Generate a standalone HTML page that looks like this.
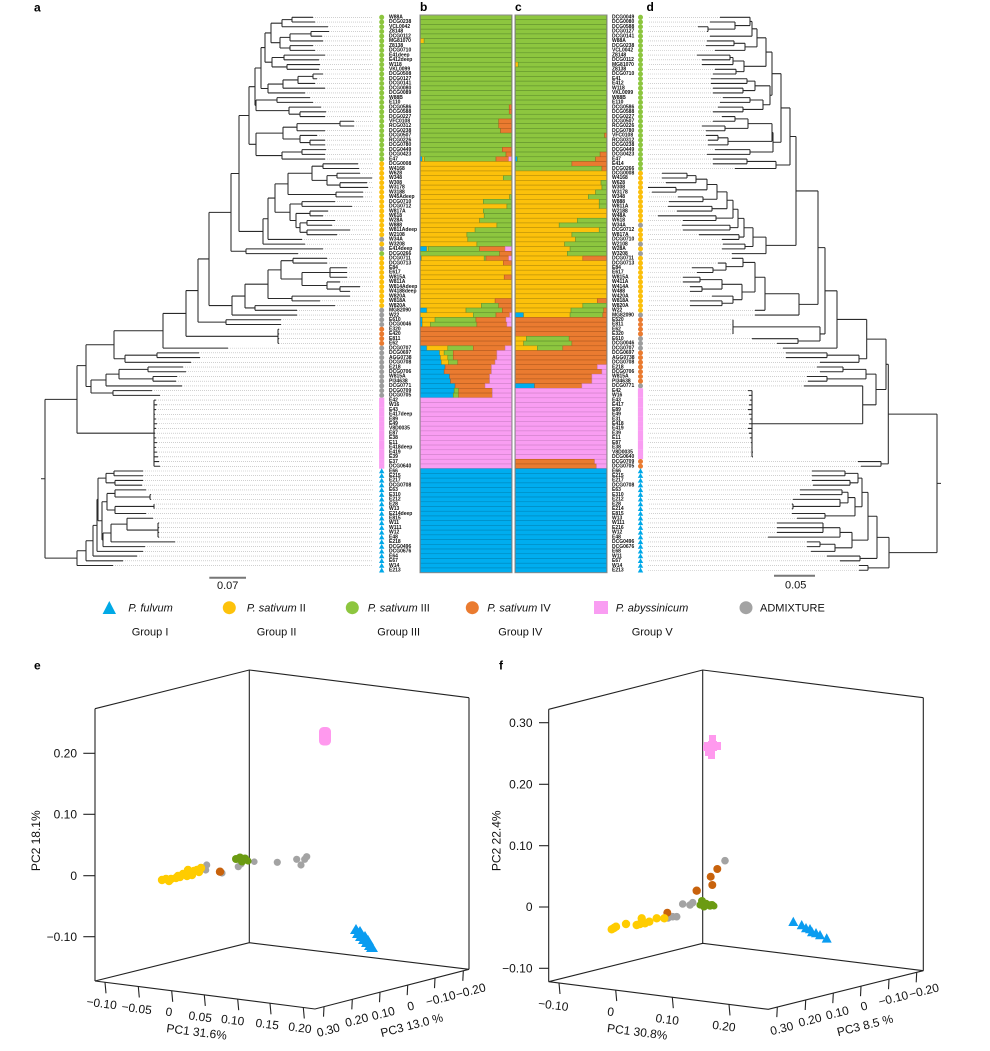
<!DOCTYPE html>
<html><head><meta charset="utf-8">
<style>
html,body{margin:0;padding:0;background:#fff;}
#wrap{position:relative;width:990px;height:1051px;overflow:hidden;background:#fff;font-family:"Liberation Sans",Arial,sans-serif;}
#main{position:absolute;left:0;top:0;}
.lab{position:absolute;font-size:10px;line-height:9.452px;font-weight:bold;white-space:pre;color:#111;transform:scale(0.5);transform-origin:0 0;font-family:"Liberation Sans",Arial,sans-serif;}
</style></head><body>
<div id="wrap">
<svg id="main" width="990" height="1051" viewBox="0 0 990 1051" xmlns="http://www.w3.org/2000/svg" font-family="Liberation Sans, Arial, sans-serif">
<g id="treeA"></g>
<g id="treeD"></g>
<g id="bars"></g>
<g id="marks"></g>
<rect x="420" y="15" width="92" height="557.7" fill="none" stroke="#8a8a8a" stroke-width="1"/>
<rect x="515" y="15" width="92" height="557.7" fill="none" stroke="#8a8a8a" stroke-width="1"/>

<!-- panel letters -->
<g font-weight="bold" font-size="12" fill="#000">
<text x="34" y="11.7">a</text>
<text x="420" y="11">b</text>
<text x="515" y="11">c</text>
<text x="646.5" y="11">d</text>
<text x="34" y="669.3">e</text>
<text x="499" y="669.3">f</text>
</g>

<!-- scale bars -->
<line x1="209.3" y1="577.7" x2="246" y2="577.7" stroke="#777" stroke-width="2"/>
<text x="227.7" y="589" font-size="11" text-anchor="middle" fill="#111">0.07</text>
<line x1="774" y1="575.7" x2="815" y2="575.7" stroke="#777" stroke-width="2"/>
<text x="795.7" y="588.3" font-size="11" text-anchor="middle" fill="#111">0.05</text>

<!-- legend -->
<g font-size="11" fill="#111">
<polygon points="109.3,601 102.6,614 116,614" fill="#00a9e6"/>
<text x="128.3" y="611.7" font-style="italic">P. fulvum</text>
<circle cx="229.3" cy="607.7" r="6.5" fill="#fdc20b"/>
<text x="246.7" y="611.7"><tspan font-style="italic">P. sativum</tspan> II</text>
<circle cx="352.3" cy="607.7" r="6.5" fill="#8dc63f"/>
<text x="367.7" y="611.7"><tspan font-style="italic">P. sativum</tspan> III</text>
<circle cx="472.3" cy="607.7" r="6.5" fill="#ea7b30"/>
<text x="487.3" y="611.7"><tspan font-style="italic">P. sativum</tspan> IV</text>
<rect x="594" y="601" width="14" height="13" fill="#f99df2"/>
<text x="615.7" y="611.7" font-style="italic">P. abyssinicum</text>
<circle cx="746" cy="607.7" r="6.5" fill="#a3a3a3"/>
<text x="760" y="611.7">ADMIXTURE</text>
<text x="131.7" y="635.7">Group I</text>
<text x="256.7" y="635.7">Group II</text>
<text x="377.3" y="635.7">Group III</text>
<text x="498.3" y="635.7">Group IV</text>
<text x="631.7" y="635.7">Group V</text>
</g>

<!-- PCA e -->
<g stroke="#222" stroke-width="1.1" fill="none">
<polyline points="95,708.7 249.3,670 469,697.7"/>
<line x1="95" y1="708.7" x2="95" y2="981"/>
<line x1="249.3" y1="670" x2="249.3" y2="942.7"/>
<line x1="469" y1="697.7" x2="469" y2="969.3"/>
<polyline points="95,981 249.3,942.7 469,969.3"/>
<polyline points="95,981 315,1009 469,969.3"/>
<line x1="83.3" y1="753.3" x2="95" y2="753.3"/>
<line x1="83.3" y1="814.3" x2="95" y2="814.3"/>
<line x1="83.3" y1="875.7" x2="95" y2="875.7"/>
<line x1="83.3" y1="936.7" x2="95" y2="936.7"/>
<line x1="105" y1="982.3" x2="106" y2="993.3"/>
<line x1="138.3" y1="986.5" x2="139.3" y2="997.5"/>
<line x1="171.7" y1="990.8" x2="172.7" y2="1001.8"/>
<line x1="204.3" y1="994.9" x2="205.3" y2="1005.9"/>
<line x1="237.7" y1="999.2" x2="238.7" y2="1010.2"/>
<line x1="270" y1="1003.3" x2="271" y2="1014.3"/>
<line x1="303.3" y1="1007.5" x2="304.3" y2="1018.5"/>
<line x1="324" y1="1006.7" x2="323.5" y2="1016.7"/>
<line x1="352.3" y1="999.4" x2="351.8" y2="1009.4"/>
<line x1="380" y1="992.2" x2="379.5" y2="1002.2"/>
<line x1="407.7" y1="985.1" x2="407.2" y2="995.1"/>
<line x1="435" y1="978.1" x2="434.5" y2="988.1"/>
<line x1="463.3" y1="970.8" x2="462.8" y2="980.8"/>
</g>
<g font-size="12" fill="#111">
<text x="77" y="757.5" text-anchor="end">0.20</text>
<text x="77" y="818.5" text-anchor="end">0.10</text>
<text x="77" y="879.9" text-anchor="end">0</text>
<text x="77" y="940.9" text-anchor="end">−0.10</text>
<text x="44.3" y="845" text-anchor="middle" transform="rotate(-90 40 845)">PC2 18.1%</text>
<g text-anchor="middle">
<text x="101.7" y="1007.5" transform="rotate(7.2 101.7 1003.3)">−0.10</text>
<text x="136.7" y="1012.5" transform="rotate(7.2 136.7 1008.3)">−0.05</text>
<text x="169" y="1015.9" transform="rotate(7.2 169 1011.7)">0</text>
<text x="200.3" y="1020.9" transform="rotate(7.2 200.3 1016.7)">0.05</text>
<text x="232.7" y="1024.2" transform="rotate(7.2 232.7 1020)">0.10</text>
<text x="267.3" y="1028.2" transform="rotate(7.2 267.3 1024)">0.15</text>
<text x="300" y="1031.9" transform="rotate(7.2 300 1027.7)">0.20</text>
<text x="196.7" y="1036" transform="rotate(7.2 196.7 1031.8)">PC1 31.6%</text>
<text x="328.3" y="1034.2" transform="rotate(-14.5 328.3 1030)">0.30</text>
<text x="356.7" y="1024.2" transform="rotate(-14.5 356.7 1020)">0.20</text>
<text x="383.3" y="1017.5" transform="rotate(-14.5 383.3 1013.3)">0.10</text>
<text x="410.7" y="1010.2" transform="rotate(-14.5 410.7 1006)">0</text>
<text x="440.7" y="1002.5" transform="rotate(-14.5 440.7 998.3)">−0.10</text>
<text x="470.7" y="994.9" transform="rotate(-14.5 470.7 990.7)">−0.20</text>
<text x="411.7" y="1029.2" transform="rotate(-14.5 411.7 1025)">PC3 13.0 %</text>
</g>
</g>
<!-- e data -->
<rect x="319" y="727" width="12" height="18.5" rx="4.5" fill="#ff99ee"/>
<g fill="#0a9cf0">
<polygon points="356,924 350,934 362,934"/><polygon points="358,928 352,938 364,938"/>
<polygon points="361,931 355,941 367,941"/><polygon points="364,934 358,944 370,944"/>
<polygon points="367,937 361,947 373,947"/><polygon points="370,940 364,950 376,950"/>
<polygon points="372,942 366,952 378,952"/><polygon points="360,926 354,936 366,936"/>
<polygon points="365,931 359,941 371,941"/><polygon points="368,935 362,945 374,945"/>
</g>
<g fill="#a3a3a3">
<circle cx="206.7" cy="865" r="3.6"/><circle cx="205.7" cy="870" r="3.6"/><circle cx="222" cy="873" r="3.6"/>
<circle cx="238.3" cy="866.7" r="3.6"/><circle cx="241" cy="864" r="3.6"/><circle cx="254.3" cy="861.7" r="3.3"/>
<circle cx="277.3" cy="862.3" r="3.6"/><circle cx="296.7" cy="859.3" r="3.6"/><circle cx="306.7" cy="856.7" r="3.6"/>
<circle cx="304.7" cy="859.3" r="3.6"/><circle cx="301" cy="865" r="3.6"/>
</g>
<g fill="#6b9b12">
<circle cx="236" cy="859" r="4"/><circle cx="240" cy="857.5" r="4"/><circle cx="245" cy="858.5" r="4"/><circle cx="248" cy="861" r="3.6"/><circle cx="242" cy="861.5" r="4"/>
</g>
<circle cx="220" cy="871.7" r="4.2" fill="#c8620c"/>
<g fill="#ffcc00">
<circle cx="162" cy="880" r="4.2"/><circle cx="166" cy="879" r="4.2"/><circle cx="171" cy="879" r="4.2"/><circle cx="176" cy="878" r="4.2"/>
<circle cx="180" cy="877" r="4.2"/><circle cx="183" cy="874" r="4.2"/><circle cx="187" cy="876" r="4.2"/><circle cx="190" cy="873" r="4.2"/>
<circle cx="194" cy="871" r="4.2"/><circle cx="197" cy="870" r="4.2"/><circle cx="201" cy="868" r="4.2"/><circle cx="199" cy="872" r="4.2"/>
<circle cx="188" cy="870" r="4.2"/><circle cx="178" cy="876" r="4.2"/><circle cx="169" cy="881" r="4.2"/><circle cx="192" cy="875" r="4.2"/>
</g>

<!-- PCA f -->
<g stroke="#222" stroke-width="1.1" fill="none">
<polyline points="548.7,709.3 702.7,670 923.3,697.7"/>
<line x1="548.7" y1="709.3" x2="548.7" y2="981.7"/>
<line x1="702.7" y1="670" x2="702.7" y2="943.3"/>
<line x1="923.3" y1="697.7" x2="923.3" y2="970.7"/>
<polyline points="548.7,981.7 702.7,943.3 923.3,970.7"/>
<polyline points="548.7,981.7 768.3,1009.3 923.3,970.7"/>
<line x1="539" y1="722.7" x2="548.7" y2="722.7"/>
<line x1="539" y1="784.3" x2="548.7" y2="784.3"/>
<line x1="539" y1="845.7" x2="548.7" y2="845.7"/>
<line x1="539" y1="907" x2="548.7" y2="907"/>
<line x1="539" y1="968.3" x2="548.7" y2="968.3"/>
<line x1="559" y1="983" x2="560" y2="994"/>
<line x1="615.7" y1="990.1" x2="616.7" y2="1001.1"/>
<line x1="672.3" y1="997.2" x2="673.3" y2="1008.2"/>
<line x1="729" y1="1004.4" x2="730" y2="1015.4"/>
<line x1="777.3" y1="1007.1" x2="776.8" y2="1017.1"/>
<line x1="805.7" y1="1000" x2="805.2" y2="1010"/>
<line x1="833.3" y1="993.1" x2="832.8" y2="1003.1"/>
<line x1="861" y1="986.2" x2="860.5" y2="996.2"/>
<line x1="889" y1="979.2" x2="888.5" y2="989.2"/>
<line x1="916.7" y1="972.3" x2="916.2" y2="982.3"/>
</g>
<g font-size="12" fill="#111">
<text x="532.5" y="726.9" text-anchor="end">0.30</text>
<text x="532.5" y="788.5" text-anchor="end">0.20</text>
<text x="532.5" y="849.9" text-anchor="end">0.10</text>
<text x="532.5" y="911.2" text-anchor="end">0</text>
<text x="532.5" y="972.5" text-anchor="end">−0.10</text>
<text x="504.7" y="845" text-anchor="middle" transform="rotate(-90 500.5 845)">PC2 22.4%</text>
<g text-anchor="middle">
<text x="553.3" y="1009.2" transform="rotate(7.2 553.3 1005)">−0.10</text>
<text x="610.7" y="1015.9" transform="rotate(7.2 610.7 1011.7)">0</text>
<text x="667.3" y="1023.5" transform="rotate(7.2 667.3 1019.3)">0.10</text>
<text x="724" y="1030.2" transform="rotate(7.2 724 1026)">0.20</text>
<text x="637.3" y="1035.9" transform="rotate(7.2 637.3 1031.7)">PC1 30.8%</text>
<text x="781.7" y="1032.5" transform="rotate(-14 781.7 1028.3)">0.30</text>
<text x="810" y="1024.2" transform="rotate(-14 810 1020)">0.20</text>
<text x="837.3" y="1016.9" transform="rotate(-14 837.3 1012.7)">0.10</text>
<text x="864" y="1010.2" transform="rotate(-14 864 1006)">0</text>
<text x="893.3" y="1002.5" transform="rotate(-14 893.3 998.3)">−0.10</text>
<text x="924" y="994.9" transform="rotate(-14 924 990.7)">−0.20</text>
<text x="865" y="1029.4" transform="rotate(-14 865 1025.2)">PC3 8.5 %</text>
</g>
</g>
<!-- f data -->
<g fill="#ff99ee">
<rect x="704" y="742" width="7" height="7"/><rect x="709" y="735" width="7" height="9"/><rect x="708" y="741" width="9" height="10"/>
<rect x="714" y="742" width="7" height="8"/><rect x="705" y="748" width="8" height="8"/><rect x="708" y="751" width="7" height="8"/>
<rect x="703" y="745" width="6" height="6"/>
</g>
<g fill="#0a9cf0">
<polygon points="793.3,916.7 788.3,926 798.3,926"/><polygon points="801.7,920 796.7,929.3 806.7,929.3"/>
<polygon points="806,923 801,932.3 811,932.3"/><polygon points="810,924 805,933.3 815,933.3"/>
<polygon points="812,927 807,936.3 817,936.3"/><polygon points="816,928 811,937.3 821,937.3"/>
<polygon points="820,930 815,939.3 825,939.3"/><polygon points="826.7,933.3 821.7,942.6 831.7,942.6"/>
</g>
<g fill="#a3a3a3">
<circle cx="672.7" cy="916.7" r="3.8"/><circle cx="676.7" cy="916.7" r="3.8"/><circle cx="682.7" cy="904" r="3.8"/>
<circle cx="690" cy="905" r="3.8"/><circle cx="692.7" cy="902.7" r="3.8"/><circle cx="725" cy="860.7" r="3.8"/><circle cx="668" cy="918" r="3.8"/>
</g>
<g fill="#6b9b12">
<circle cx="702" cy="901" r="4"/><circle cx="706" cy="904" r="4.2"/><circle cx="710" cy="905.5" r="4.2"/>
<circle cx="704" cy="906.5" r="4"/><circle cx="712" cy="905" r="4"/><circle cx="700" cy="905" r="3.6"/><circle cx="714" cy="906" r="3.5"/>
</g>
<g fill="#c8620c">
<circle cx="667.3" cy="912.7" r="4"/><circle cx="696.7" cy="890.7" r="4.2"/><circle cx="710.7" cy="876.7" r="4"/>
<circle cx="712.3" cy="885" r="4"/><circle cx="717.3" cy="869" r="4"/>
</g>
<g fill="#ffcc00">
<circle cx="611.7" cy="929.3" r="4.2"/><circle cx="616" cy="926.7" r="4.2"/><circle cx="626" cy="924" r="4.2"/>
<circle cx="636.7" cy="925" r="4.2"/><circle cx="641.7" cy="918.3" r="4.2"/><circle cx="645" cy="923.3" r="4.2"/>
<circle cx="649.3" cy="921.7" r="4.2"/><circle cx="656.7" cy="918.3" r="4.2"/><circle cx="664.3" cy="918.3" r="4.2"/>
<circle cx="614" cy="928" r="4.2"/><circle cx="640" cy="924" r="4.2"/>
</g>
</svg>

<div class="lab" style="left:389px;top:14.94px">W88A
DCG0238
VCL0042
Z8148
DCG0112
MG81070
Z8138
DCG0710
E41deep
E412deep
W118
VKL0099
DCG0508
DCG0127
DCG0141
DCG0080
DCG0089
W88B
E110
DCG0586
DCG0588
DCG0227
VFC0108
RCG0312
DCG0238
DCG0507
RCG0226
DCG0780
DCG0449
DCG0423
E47
DCG0008
W4168
W628
W348
W308
W3178
W3188
W45Adeep
DCG0710
DCG0712
W817A
W618
W28A
W888
W811Adeep
W2108
W34A
W3208
E414deep
DCG0266
DCG0711
DCG0713
E84
E617
W815A
W811A
W814Adeep
W4188deep
W820A
W818A
W820A
MG82090
W22
E610
DCG0046
E320
E420
E811
E62
DCG0707
DCG0697
AGG0738
DCG0708
E218
DCG0706
W815A
PI34638
DCG0771
DCG0709
DCG0705
E42
W16
E43
E417deep
E89
E49
V8D0035
E87
E38
E11
E418deep
E419
E39
E37
DCG0640
E66
E215
E217
DCG0708
E63
E310
E212
E28
W13
E214deep
E815
W11
W111
W12
E48
E218
DCG0496
DCG0676
E64
E67
W14
E213</div>

<div class="lab" style="left:612px;top:14.94px">DCG0049
DCG0080
DCG0588
DCG0127
DCG0141
W88A
DCG0238
VCL0042
Z8148
DCG0112
MG81070
Z8138
DCG0710
E41
E412
W118
VKL0099
W88B
E110
DCG0586
DCG0588
DCG0227
DCG0507
RCG0226
DCG0780
VFC0108
RCG0312
DCG0238
DCG0449
DCG0423
E47
E414
DCG0266
DCG0008
W4168
W628
W308
W3178
W348
W888
W811A
W2188
W48A
W618
W34A
DCG0712
W817A
DCG0710
W2108
W28A
W3208
DCG0711
DCG0713
E84
E617
W815A
W411A
W414A
W488
W420A
W818A
W820A
W22
MG82090
E520
E811
E62
E320
E610
DCG0046
DCG0707
DCG0697
AGG0738
DCG0708
E218
DCG0706
W815A
PI34638
DCG0771
E42
W16
E43
E417
E89
E49
E31
E418
E419
E39
E11
E87
E38
V8D0035
DCG0640
DCG0709
DCG0705
E66
E215
E217
DCG0708
E63
E310
E212
E28
E214
E815
W13
W111
E216
W12
E48
DCG0496
DCG0676
E68
W11
E67
W14
E213</div>
</div>

<script>
(function(){
var NS='http://www.w3.org/2000/svg';
function el(p,tag,a){var e=document.createElementNS(NS,tag);for(var k in a)e.setAttribute(k,a[k]);p.appendChild(e);return e;}
function RY(i){return 17.3+i*4.726;}

function drawTree(g,tree,dir,leaderX){
  var row=0,d='',dots='';
  function rec(n){
    if(typeof n==='number'){var y=RY(row++);dots+='M'+n+' '+y.toFixed(2)+'H'+leaderX;return y;}
    var x=n[0],ys=[];
    for(var i=1;i<n.length;i++){var c=n[i];var cy=rec(c);var cx=(typeof c==='number')?c:c[0];
      d+='M'+x+' '+cy.toFixed(2)+'H'+cx;ys.push(cy);}
    var y0=Math.min.apply(null,ys),y1=Math.max.apply(null,ys);
    d+='M'+x+' '+y0.toFixed(2)+'V'+y1.toFixed(2);
    return (y0+y1)/2;
  }
  var ry=rec(tree);
  d+='M'+(tree[0]-dir*4)+' '+ry.toFixed(2)+'H'+tree[0];
  el(g,'path',{d:dots,stroke:'#b5b5b5','stroke-width':0.6,'stroke-dasharray':'1 1',fill:'none'});
  el(g,'path',{d:d,stroke:'#2a2a2a','stroke-width':1.05,fill:'none'});
}

/* ---------- tree a ---------- */
var R1_8=[271,[282,[292,313,315],328],[280,[290,[311,329,322],323],[290,313,315]]];
var R9_12=[272,[284,325,319],[287,320,319]];
var R13_17=[268,[283,[298,[313,323,317],315],325],305];
var R18_22=[256,[277,310,313],[289,321,[300,326,325]]];
var R23_31=[256,[283,[297,[340,354,354],325],[300,317,[310,325,325]]],[282,[302,326,325],325]];
var GREEN=[249,[255,[261,[265,R1_8,R9_12],R13_17],R18_22],R23_31];
var A8=[288,[312,[323,358,359],[327,[337,360,372],[340,367,368]]],[336,363,363]];
var B8=[290,[302,335,352],[296,[310,328,323],[300,[307,335,332],[307,350,337]]]];
var Y1=[263,[268,[275,A8,B8],302],305];
var N239=[239,GREEN,Y1];
var N231=[231,N239,[246,323,298]];
var Y2=[232,[245,[268,[281,[293,327,327],[302,[330,347,347,347],[327,340,[340,360,350]]]],[292,350,320]],[255,335,297]],297];
var N209=[209,N231,Y2];
var N198=[198,N209,[226,281,281]];
var N186=[186,N198,[278,279,279,279,279]];
var N163=[163,N186,228];
var N114=[114,N163,[125,[157,199,200],191]];
var ADM2=[91,[106,[119,[148,183,186],[153,177,176]],182],[113,152,160]];
var SAT=[86,N114,ADM2];
var PINK=[154,156,157,156,155,156,157,156,155,156,157,156,157,158,159,160];
var UP=[77,SAT,PINK];
var BA=[106,[114,143,143],[115,143,142]];
var BB=[107,[115,146,[150,151,151]],[115,[154,154,154],146]];
var BC=[103,[111,[127,153,[158,159,159,159,159]],175],145];
var BLUE=[77,[86,[93,[97,[98,BA,[102,BB,BC]],143],137],123],113];
var ROOTA=[45,UP,BLUE];
drawTree(document.getElementById('treeA'),ROOTA,1,373);

/* ---------- tree d ---------- */
var D1_5=[752,[750,720,[735,710,[708,698,707]]],710];
var D6_8=[745,[734,707,706],715];
var D9_13=[744,[733,[730,697,702],702],[736,715,713]];
var D14_17=[755,[747,711,711],[743,713,713]];
var D18_21=[763,[750,723,720],[743,718,713]];
var D22_28=[772,[748,[735,722,713],[725,702,706]],[728,[718,706,708],708]];
var D29_30=[750,715,707];
var D31_33=[776,[747,713,713],735];
var GA=[757,D1_5,D6_8];
var GB=[766,GA,D9_13];
var GC=[772,GB,[770,D14_17,D18_21]];
var GD=[790,[781,GC,[773,D22_28,D29_30]],D31_33];
var YA=[766,
 [753,
  [744,
   [738,
    [733,
     [727,
      [717,[707,[696,[687,662,662],666],[676,648,652]],[703,678,669]],
      [712,668,677]
     ],
     [716,658,683]
    ],
    [730,682,683]
   ],
   [739,699,722]
  ],
  [745,723,722]
 ],
 732];
var YB=[765,[755,[743,732,[726,718,[713,692,697]]],[742,[722,[700,683,683],[702,690,690]],[733,712,[722,690,690]]]],755];
var N796=[796,GD,YA];
var N818=[818,N796,[799,YB,755]];
var N825=[825,N818,[820,[733,733,733,733,733],[798,752,777]]];
var N837=[837,N825,783];
var N866=[866.7,N837,[859,[827,786,786],820]];
var PINKD=[752,748,749,750,749,748,749,750,749,748,749,750,751,752,753,753];
var N876=[876,[866,[843,817,820],[827,807,808]],[862.7,804,PINKD]];
var N886=[886,N866,N876];
var UPD=[888.3,N886,[881,858,861]];
var B1=[858,[845,812,812],[850,812,813]];
var B2=[855,[848,[842,800,800],[840,793,[793,792,792]]],[825,792,797]];
var B3=[852,[840,[823,777,777,777],768],[835,[820,807,807],811]];
var BLUED=[889,[877,[868,[862,B1,B2],B3],[860,827,840]],[868,859,859]];
var ROOTD=[937,UPD,BLUED];
drawTree(document.getElementById('treeD'),ROOTD,-1,648);

/* ---------- bars ---------- */
var C={G:'#8dc63f',Y:'#fcc10b',O:'#ea7b30',P:'#f99df2',B:'#00adef'};
var S={G:'#5f8f2c',Y:'#b58d0a',O:'#b25a1e',P:'#cf80c9',B:'#0085b8'};
var specB={6:'Y.04 G.96',20:'G.975 O.025',21:'G.975 O.025',23:'G.86 O.14',24:'G.86 O.14',25:'G.88 O.12',29:'G.9 O.1',30:'G.94 O.06',
31:'B.02 Y.025 G.785 O.14 P.03',35:'Y.91 G.09',39:'Y.98 G.02',40:'Y.69 G.31',41:'Y.95 G.05',42:'Y.69 G.31',43:'Y.7 G.3',44:'Y.65 G.35',
45:'Y.84 G.16',46:'Y.6 G.4',47:'Y.51 G.49',48:'Y.52 G.48',49:'Y.62 G.38',50:'B.07 Y.02 G.56 O.28 P.07',51:'G.87 O.13',
52:'B.01 Y.69 G.02 O.25 P.03',53:'Y.91 O.09',56:'Y.92 O.08',61:'Y.82 O.18',62:'Y.67 G.19 O.14',63:'B.07 Y.43 G.4 O.1',
64:'Y.58 G.25 O.15 P.02',65:'B.02 Y.14 G.45 O.33 P.06',66:'B.02 Y.09 G.51 O.33 P.05',71:'B.07 Y.23 G.28 O.35 P.07',
72:'B.21 Y.05 G.1 O.48 P.16',73:'B.22 Y.08 G.06 O.48 P.16',74:'B.23 Y.08 G.1 O.41 P.18',75:'B.27 O.51 P.22',76:'B.26 O.52 P.22',
77:'B.32 O.44 P.24',78:'B.33 O.43 P.24',79:'B.38 O.33 P.29',80:'B.37 G.05 O.37 P.21',81:'B.36 G.06 O.37 P.21'};
function defB(r){return r<=31?'G1':r<=66?'Y1':r<=70?'O1':r<=81?'O1':r<=96?'P1':'B1';}
var specC={11:'Y.03 G.97',26:'G.98 O.02',30:'G.93 O.07',31:'B.02 G.86 O.12',32:'G.62 O.38',33:'G.95 O.05',36:'Y.94 G.06',37:'Y.95 G.05',
38:'Y.88 G.12',39:'Y.8 G.2',40:'Y.92 G.08',41:'Y.92 G.08',44:'Y.68 G.32',45:'Y.48 G.52',46:'Y.92 G.08',47:'Y.62 G.38',48:'Y.66 G.34',
49:'Y.54 G.46',50:'Y.6 G.4',51:'Y.57 G.43',52:'Y.74 O.26',61:'Y.9 O.1',62:'Y.74 G.26',63:'Y.61 G.36 O.03',64:'B.09 Y.51 G.36 O.04',
69:'Y.12 G.47 O.41',70:'Y.09 G.53 O.38',71:'Y.24 G.28 O.48',75:'O.9 P.1',76:'O.95 P.05',77:'O.84 P.16',78:'O.84 P.16',
79:'B.21 O.52 P.27',95:'O.87 P.13',96:'O.89 P.11'};
function defC(r){return r<=33?'G1':r<=64?'Y1':r<=79?'O1':r<=94?'P1':r<=96?'O1':'B1';}
var bg=document.getElementById('bars');
function drawBars(x0,w,spec,def){
  for(var r=1;r<=118;r++){
    var s=(spec[r]||def(r)).split(' ');
    var y=15+(r-1)*4.726,x=x0;
    for(var i=0;i<s.length;i++){
      var col=s[i].charAt(0),f=parseFloat(s[i].substring(1));
      if(s[i].substring(1)==='1')f=1;
      var ww=w*f;
      el(bg,'rect',{x:x.toFixed(2),y:y.toFixed(2),width:ww.toFixed(2),height:4.726,fill:C[col],stroke:S[col],'stroke-width':0.55});
      x+=ww;
    }
  }
}
drawBars(420.5,91,specB,defB);
drawBars(515.5,91,specC,defC);

/* ---------- markers ---------- */
var MC={G:'#8dc63f',Y:'#fbbf0c',A:'#9d9d9d',O:'#ea7b30',P:'#f99df2',B:'#00a8e8'};
var mg=document.getElementById('marks');
function drawMarks(cx,runs){
  var list=[];runs.split(' ').forEach(function(t){var c=t.charAt(0),n=parseInt(t.substring(1));for(var i=0;i<n;i++)list.push(c);});
  for(var r=0;r<list.length;r++){
    var c=list[r],y=RY(r);
    if(c==='P'){el(mg,'rect',{x:cx-2.6,y:(y-2.4).toFixed(2),width:5.2,height:4.8,fill:MC.P});}
    else if(c==='B'){el(mg,'polygon',{points:cx+','+(y-2.7).toFixed(2)+' '+(cx-2.7)+','+(y+2.2).toFixed(2)+' '+(cx+2.7)+','+(y+2.2).toFixed(2),fill:MC.B});}
    else {el(mg,'circle',{cx:cx,cy:y.toFixed(2),r:2.5,fill:MC[c]});}
  }
}
drawMarks(381.7,'G31 Y16 A1 Y1 A1 G1 Y11 A4 O4 A11 P15 B22');
drawMarks(640.5,'G33 Y11 A1 Y3 A1 Y1 A1 Y12 A1 O4 A3 O7 A1 P15 O2 B22');
})();
</script>
</body></html>
